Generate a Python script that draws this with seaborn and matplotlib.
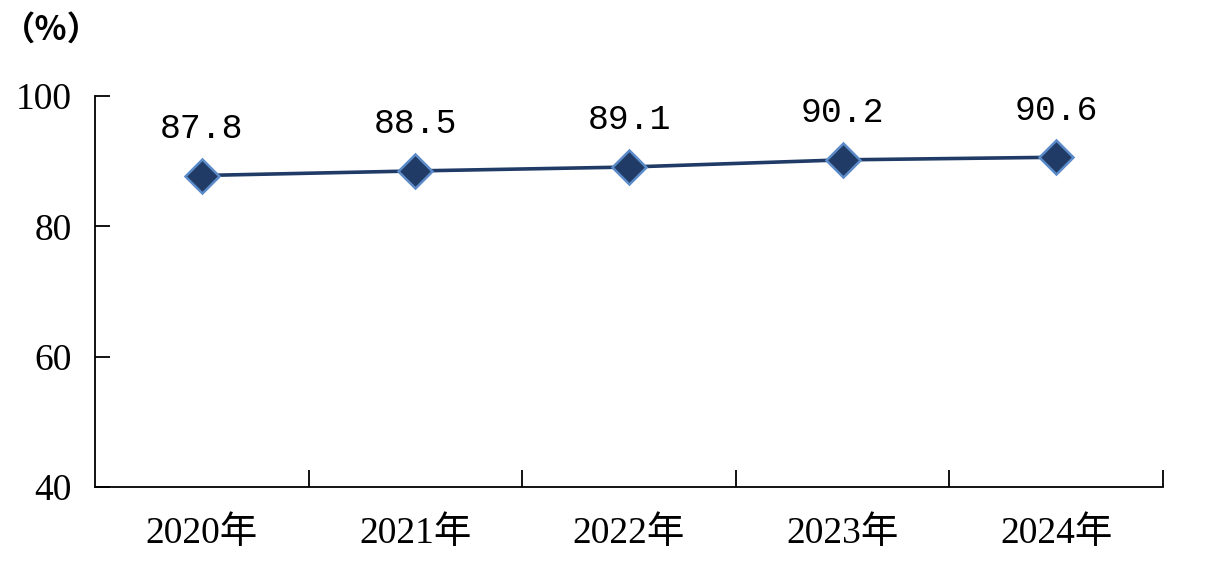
import matplotlib.pyplot as plt
import seaborn as sns
import pandas as pd
import numpy as np
from matplotlib.ticker import FixedLocator

years = ['2020年', '2021年', '2022年', '2023年', '2024年']
rates = [87.8, 88.5, 89.1, 90.2, 90.6]
y_ticks = [40, 60, 80, 100]

sns.set_style('white')
plt.rcParams['font.family'] = ['Liberation Serif', 'Noto Sans CJK SC']

data = pd.DataFrame({'pos': np.arange(len(years)), 'rate': rates})

fig = plt.figure(figsize=(12.31, 5.82), dpi=100)
ax = fig.add_axes([95 / 1231, 95 / 582, 1068 / 1231, 391 / 582])

sns.lineplot(data=data, x='pos', y='rate', ax=ax, color='#1F3B66', linewidth=2.6,
             marker='D', markersize=17, markerfacecolor='#1F3B66',
             markeredgecolor='#5B8BC8', markeredgewidth=1.8)

for i, v in enumerate(rates):
    ax.annotate(f'{v:.1f}', (i, v), xytext=(0, 34), textcoords='offset points',
                ha='center', va='center', fontsize=25, color='black',
                family=['Liberation Mono', 'DejaVu Sans Mono'])

ax.set_xlim(-0.5, len(years) - 0.5)
ax.set_ylim(40, 100)
ax.set_xticks(range(len(years)))
ax.set_xticklabels(years)
ax.xaxis.set_minor_locator(FixedLocator(np.arange(len(years)) + 0.5))
ax.set_yticks(y_ticks)
ax.set_xlabel('')
ax.set_ylabel('')

ax.tick_params(axis='x', which='major', length=0, pad=21, labelsize=27, labelcolor='black')
ax.tick_params(axis='x', which='minor', direction='in', length=12, width=1.3, color='black', bottom=True)
ax.tick_params(axis='y', direction='in', length=11, width=1.3, color='black', pad=17,
               labelsize=27, labelcolor='black', left=True)

for s in ['top', 'right']:
    ax.spines[s].set_visible(False)
for s in ['left', 'bottom']:
    ax.spines[s].set_color('black')
    ax.spines[s].set_linewidth(1.3)

fig.text(2 / 1231, 1 - 30 / 582, '（%）', fontsize=24, va='center', ha='left',
         fontweight='bold', color='black', family=['Noto Sans CJK SC', 'DejaVu Sans'])

fig.savefig('out.png', dpi=100)
